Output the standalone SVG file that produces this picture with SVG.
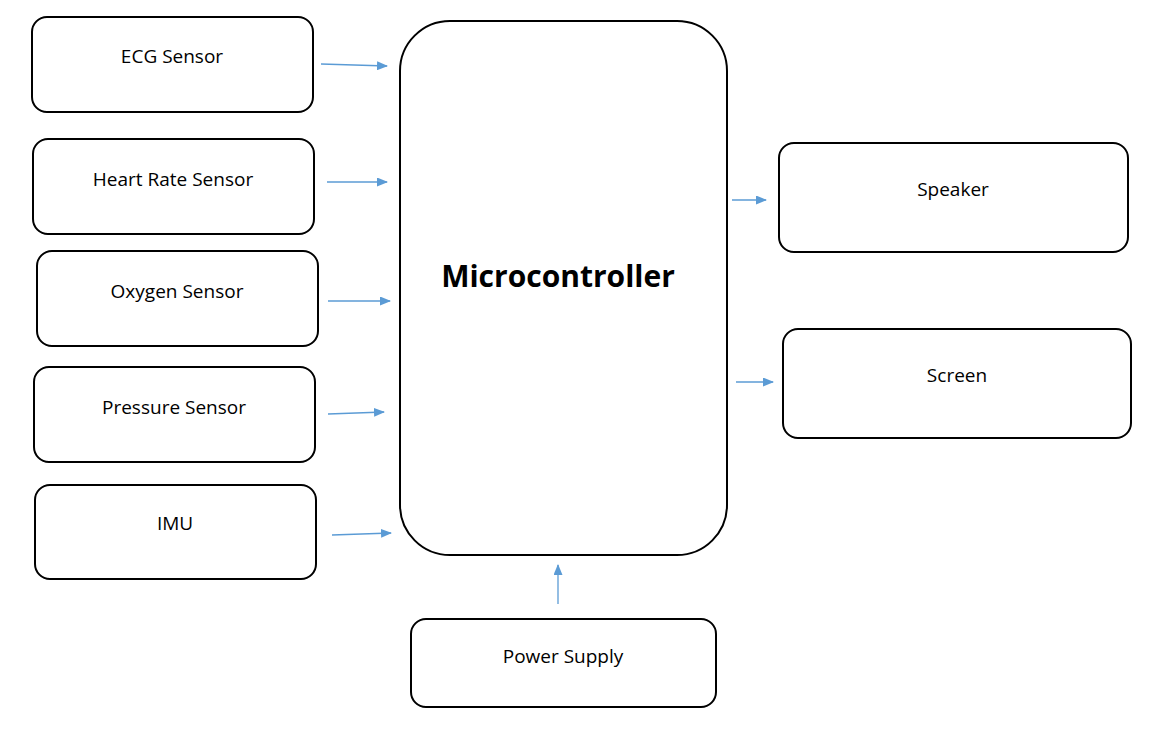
<svg xmlns="http://www.w3.org/2000/svg" width="1151" height="735" viewBox="0 0 1151 735">
<style>
.box{fill:#fff;stroke:#000;stroke-width:2}
.lbl{font-family:"Open Sans","Liberation Sans",sans-serif;font-size:19px;fill:#000;text-anchor:middle}
.title{font-family:"Open Sans","Liberation Sans",sans-serif;font-size:30px;font-weight:bold;fill:#000;text-anchor:middle}
.conn{stroke:#5B9BD5;stroke-width:1.3;fill:none;marker-end:url(#ah)}
</style>
<defs>
<marker id="ah" markerWidth="11" markerHeight="9" refX="10" refY="4.5" orient="auto" markerUnits="userSpaceOnUse">
<path d="M0,0 L11,4.5 L0,9 Z" fill="#5B9BD5"/>
</marker>
</defs>
<rect width="1151" height="735" fill="#fff"/>
<g id="ecg"><rect class="box" x="32" y="17" width="281" height="95" rx="15"/><text class="lbl" x="172" y="63">ECG Sensor</text></g>
<g id="heart-rate"><rect class="box" x="33" y="139" width="281" height="95" rx="15"/><text class="lbl" x="173" y="186">Heart Rate Sensor</text></g>
<g id="oxygen"><rect class="box" x="37" y="251" width="281" height="95" rx="15"/><text class="lbl" x="177" y="298">Oxygen Sensor</text></g>
<g id="pressure"><rect class="box" x="34" y="367" width="281" height="95" rx="15"/><text class="lbl" x="174" y="414">Pressure Sensor</text></g>
<g id="imu"><rect class="box" x="35" y="485" width="281" height="94" rx="15"/><text class="lbl" x="175" y="530">IMU</text></g>
<g id="microcontroller"><rect class="box" x="400" y="21" width="327" height="534" rx="50"/><text class="title" x="558" y="287">Microcontroller</text></g>
<g id="speaker"><rect class="box" x="779" y="143" width="349" height="109" rx="15"/><text class="lbl" x="953" y="196">Speaker</text></g>
<g id="screen"><rect class="box" x="783" y="329" width="348" height="109" rx="15"/><text class="lbl" x="957" y="382">Screen</text></g>
<g id="power-supply"><rect class="box" x="411" y="619" width="305" height="88" rx="15"/><text class="lbl" x="563" y="663">Power Supply</text></g>
<g id="connectors">
<line class="conn" x1="321" y1="64" x2="387" y2="66"/>
<line class="conn" x1="327" y1="182" x2="387" y2="182"/>
<line class="conn" x1="328" y1="301" x2="390" y2="301"/>
<line class="conn" x1="328" y1="414" x2="384" y2="412"/>
<line class="conn" x1="332" y1="535" x2="391" y2="533"/>
<line class="conn" x1="732" y1="200" x2="766" y2="200"/>
<line class="conn" x1="736" y1="382" x2="773" y2="382"/>
<line class="conn" x1="558" y1="604" x2="558" y2="565"/>
</g>
</svg>
